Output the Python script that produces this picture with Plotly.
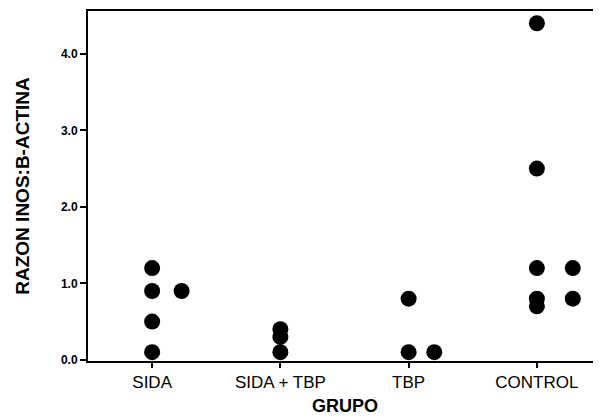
import plotly.graph_objects as go

categories = ["SIDA", "SIDA + TBP", "TBP", "CONTROL"]
y_ticks = [0, 1, 2, 3, 4]
y_tick_labels = ["0.0", "1.0", "2.0", "3.0", "4.0"]

# each point: group index, column (0 = centre, 1 = side column), value
sida_vals = [1.2, 0.9, 0.5, 0.1, 0.9]
sida_cols = [0, 0, 0, 0, 1]
sida_tbp_vals = [0.4, 0.3, 0.1]
sida_tbp_cols = [0, 0, 0]
tbp_vals = [0.8, 0.1, 0.1]
tbp_cols = [0, 0, 1]
control_vals = [4.4, 2.5, 1.2, 0.8, 0.7, 1.2, 0.8]
control_cols = [0, 0, 0, 0, 0, 1, 1]
side_offsets = [0.23, 0.2, 0.2, 0.28]

groups = [(sida_vals, sida_cols), (sida_tbp_vals, sida_tbp_cols),
          (tbp_vals, tbp_cols), (control_vals, control_cols)]

xs, ys = [], []
for gi, (vals, cols) in enumerate(groups):
    for v, c in zip(vals, cols):
        xs.append(gi + c * side_offsets[gi])
        ys.append(v)

fig = go.Figure()
fig.add_trace(go.Scatter(
    x=xs, y=ys, mode="markers",
    marker=dict(symbol="circle", size=16, color="black", line=dict(width=0)),
    showlegend=False, hoverinfo="skip"))

# the page body has an 8px margin, so the figure is sized to end at the window edge
fig.update_layout(
    width=593, height=411,
    margin=dict(l=80, r=0, t=3, b=58),
    paper_bgcolor="white", plot_bgcolor="white",
    font=dict(family="Liberation Sans, Arial, sans-serif", color="black"),
    annotations=[dict(
        text="<b>GRUPO</b>", xref="paper", yref="paper",
        x=0.5, y=-0.128, xanchor="center", yanchor="middle",
        showarrow=False, font=dict(size=18))],
)
fig.update_xaxes(
    range=[-0.5, 3.5], tickvals=[0, 1, 2, 3], ticktext=categories,
    showgrid=False, zeroline=False,
    showline=True, linecolor="black", linewidth=2, mirror=True,
    ticks="outside", ticklen=5, tickwidth=1.5, tickcolor="black",
    tickfont=dict(size=17, family="Liberation Sans, Arial, sans-serif"),
)
fig.update_yaxes(
    range=[-0.015, 4.56], tickvals=y_ticks,
    ticktext=["<b>" + t + "</b>" for t in y_tick_labels],
    showgrid=False, zeroline=False,
    showline=True, linecolor="black", linewidth=2, mirror=False,
    ticks="outside", ticklen=6, tickwidth=1.5, tickcolor="black",
    tickfont=dict(size=12, family="Liberation Sans, Arial, sans-serif"),
    title=dict(text="<b>RAZON INOS:B-ACTINA</b>",
               font=dict(size=19, family="Liberation Sans, Arial, sans-serif"),
               standoff=26),
)

fig.write_html("out.html")
